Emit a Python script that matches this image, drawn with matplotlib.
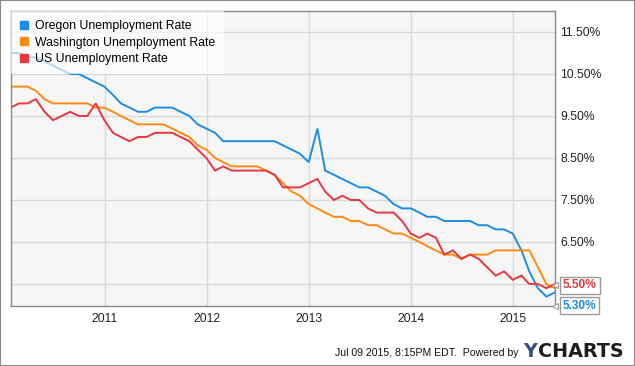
import matplotlib
matplotlib.use("Agg")
import matplotlib.pyplot as plt
import matplotlib.dates as mdates
from matplotlib.lines import Line2D
from matplotlib.patches import Rectangle
import matplotlib.transforms as mtransforms
import pandas as pd

# monthly values, Jan 2010 .. May 2015 (month end)
dates = pd.date_range(start="2010-02-01", periods=65, freq="MS") - pd.Timedelta(days=1)

oregon = [11.0, 11.0, 10.9, 10.9, 10.8, 10.7, 10.6, 10.5, 10.5, 10.4, 10.3, 10.2,
          10.0, 9.8, 9.7, 9.6, 9.6, 9.7, 9.7, 9.7, 9.6, 9.5, 9.3, 9.2,
          9.1, 8.9, 8.9, 8.9, 8.9, 8.9, 8.9, 8.9, 8.8, 8.7, 8.6, 8.4,
          9.2, 8.2, 8.1, 8.0, 7.9, 7.8, 7.8, 7.7, 7.6, 7.4, 7.3, 7.3,
          7.2, 7.1, 7.1, 7.0, 7.0, 7.0, 7.0, 6.9, 6.9, 6.8, 6.8, 6.7,
          6.3, 5.8, 5.4, 5.2, 5.3]
washington = [10.2, 10.2, 10.2, 10.1, 9.9, 9.8, 9.8, 9.8, 9.8, 9.8, 9.7, 9.7,
              9.6, 9.5, 9.4, 9.3, 9.3, 9.3, 9.3, 9.2, 9.1, 9.0, 8.8, 8.7,
              8.5, 8.4, 8.3, 8.3, 8.3, 8.3, 8.2, 8.1, 7.9, 7.7, 7.6, 7.4,
              7.3, 7.2, 7.1, 7.1, 7.0, 7.0, 6.9, 6.9, 6.8, 6.7, 6.7, 6.6,
              6.5, 6.4, 6.3, 6.2, 6.2, 6.1, 6.2, 6.2, 6.2, 6.3, 6.3, 6.3,
              6.3, 6.3, 5.9, 5.5, 5.4]
us = [9.7, 9.8, 9.8, 9.9, 9.6, 9.4, 9.5, 9.6, 9.5, 9.5, 9.8, 9.4,
      9.1, 9.0, 8.9, 9.0, 9.0, 9.1, 9.1, 9.1, 9.0, 8.9, 8.7, 8.5,
      8.2, 8.3, 8.2, 8.2, 8.2, 8.2, 8.2, 8.1, 7.8, 7.8, 7.8, 7.9,
      8.0, 7.7, 7.5, 7.6, 7.5, 7.5, 7.3, 7.2, 7.2, 7.2, 7.0, 6.7,
      6.6, 6.7, 6.6, 6.2, 6.3, 6.1, 6.2, 6.1, 5.9, 5.7, 5.8, 5.6,
      5.7, 5.5, 5.5, 5.4, 5.5]

names = ["Oregon Unemployment Rate", "Washington Unemployment Rate", "US Unemployment Rate"]
colors = ["#1b8de6", "#ff8a12", "#e8373f"]
yticks = [5.5, 6.5, 7.5, 8.5, 9.5, 10.5, 11.5]

plt.rcParams["font.family"] = ["Liberation Sans", "DejaVu Sans"]

fig = plt.figure(figsize=(6.35, 3.66), dpi=100)
ax = fig.add_axes([11 / 635, 60 / 366, 544 / 635, 295 / 366])
ax.set_facecolor("#f6f6f6")

for vals, c in zip([oregon, washington, us], colors):
    ax.plot(dates, vals, color=c, lw=1.4, solid_joinstyle="miter")

ax.set_xlim(dates[0], dates[-1])
ax.set_ylim(4.976, 12.0)
ax.set_yticks(yticks)
# the 5.50% tick label sits under the value callouts
ax.set_yticklabels(["" if t == 5.5 else "%.2f%%" % t for t in yticks])
ax.yaxis.tick_right()
ax.xaxis.set_major_locator(mdates.YearLocator())
ax.xaxis.set_major_formatter(mdates.DateFormatter("%Y"))
ax.tick_params(length=0, labelsize=8.7, colors="#222222")
ax.tick_params(axis="y", pad=4)
ax.tick_params(axis="x", pad=5)
ax.grid(True, color="#d8d8d8", lw=1)
ax.set_axisbelow(True)
for s in ax.spines.values():
    s.set_color("#8a8a8a")
    s.set_linewidth(1)

handles = [Line2D([], [], marker="s", ls="none", color=c, markersize=6) for c in colors]
leg = ax.legend(handles, names, loc="upper left", borderaxespad=0, fontsize=8.8,
                handlelength=0.7, handletextpad=0.5, labelspacing=0.36,
                borderpad=0.75, frameon=True, fancybox=False, framealpha=0.65)
leg.get_frame().set_edgecolor("none")
leg.get_frame().set_facecolor("white")

# end-of-series value labels
trans = mtransforms.blended_transform_factory(ax.transAxes, ax.transData)
for txt, y, c in [("5.50%", 5.47, colors[2]), ("5.30%", 4.98, colors[0])]:
    ax.annotate(txt, xy=(1, y), xycoords=trans, xytext=(8, 0), textcoords="offset pixels",
                ha="left", va="center", fontsize=8.6, fontweight="bold", color=c,
                annotation_clip=False,
                bbox=dict(boxstyle="square,pad=0.22", fc="white", ec="#9a9a9a", lw=1))
    ax.plot([1.0], [y], marker="<", markersize=5, color="white", mec="#9a9a9a",
            mew=0.8, transform=trans, clip_on=False, zorder=5)

fig.text(335 / 635, 13 / 366, "Jul 09 2015, 8:15PM EDT.  Powered by", fontsize=7.6,
         color="#111111", ha="left", va="center")
fig.text(523 / 635, 14.5 / 366, "Y", fontsize=13.8, fontweight="bold", color="#33507f",
         family="DejaVu Sans", ha="left", va="center")
fig.text(538 / 635, 14.5 / 366, "CHARTS", fontsize=13.8, fontweight="bold", color="#1d1d1d",
         family="DejaVu Sans", ha="left", va="center")

fig.patches.append(Rectangle((0, 0), 1, 1, transform=fig.transFigure, fill=False,
                             ec="#8a8a8a", lw=1.5))

fig.savefig("out.png", dpi=100)
